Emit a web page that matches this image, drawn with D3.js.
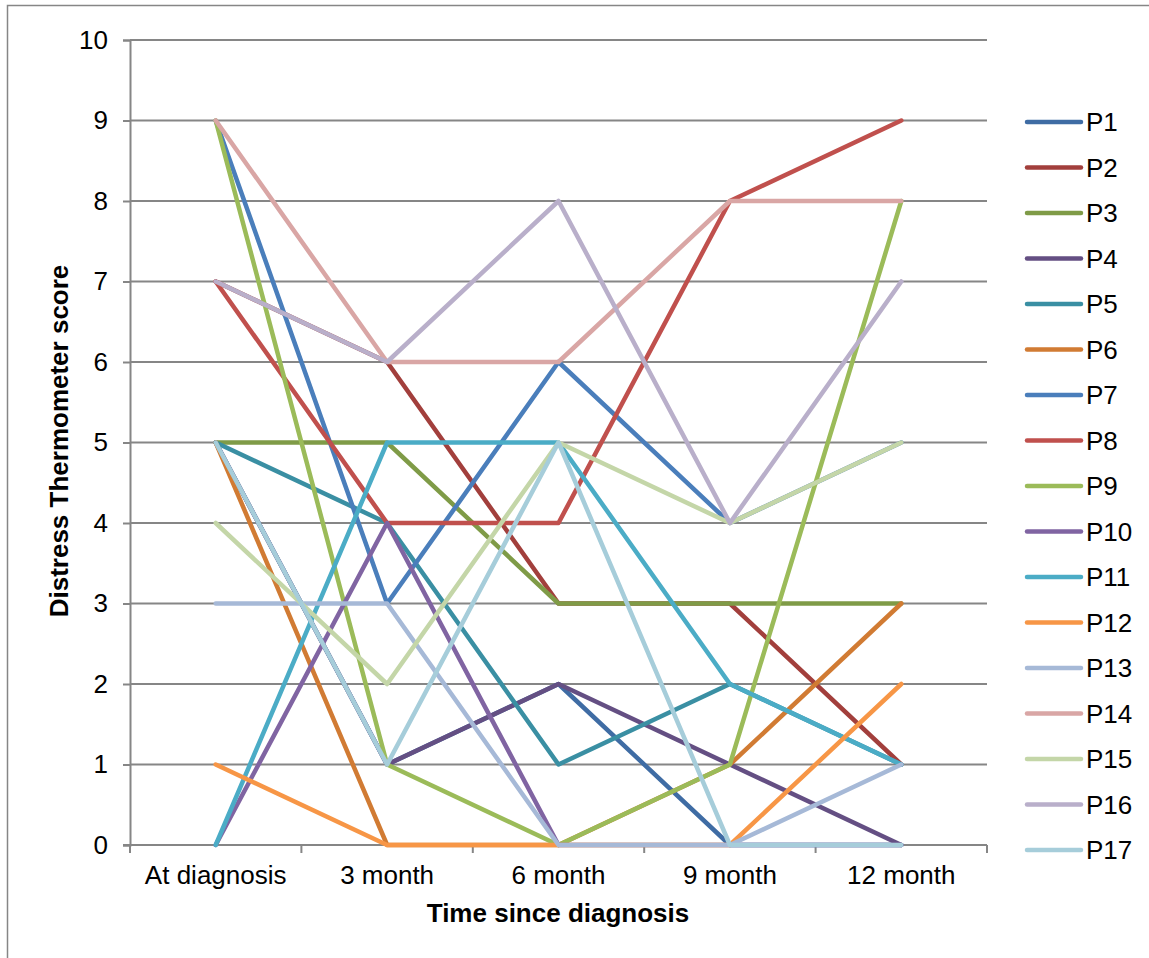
<!DOCTYPE html>
<html>
<head>
<meta charset="utf-8">
<script src="https://cdn.jsdelivr.net/npm/d3@7"></script>
<style>
  body { margin: 0; background: #fff; }
  text { font-family: "Liberation Sans", Arial, sans-serif; }
</style>
</head>
<body>
<div id="chart"></div>
<script>
// Data
var timePoints = ["At diagnosis", "3 month", "6 month", "9 month", "12 month"];
var seriesNames = ["P1","P2","P3","P4","P5","P6","P7","P8","P9","P10","P11","P12","P13","P14","P15","P16","P17"];
var seriesValues = [
  [5, 1, 2, 0, 0],  // P1
  [7, 6, 3, 3, 1],  // P2
  [5, 5, 3, 3, 3],  // P3
  [5, 1, 2, 1, 0],  // P4
  [5, 4, 1, 2, 1],  // P5
  [5, 0, 0, 1, 3],  // P6
  [9, 3, 6, 4, 5],  // P7
  [7, 4, 4, 8, 9],  // P8
  [9, 1, 0, 1, 8],  // P9
  [0, 4, 0, 0, 0],  // P10
  [0, 5, 5, 2, 1],  // P11
  [1, 0, 0, 0, 2],  // P12
  [3, 3, 0, 0, 1],  // P13
  [9, 6, 6, 8, 8],  // P14
  [4, 2, 5, 4, 5],  // P15
  [7, 6, 8, 4, 7],  // P16
  [5, 1, 5, 0, 0]   // P17
];
var seriesColors = ["#3F6CA4","#A23F3C","#7F9B47","#644F83","#3A8FA3","#D17B33",
  "#4A7EBB","#C0504D","#9BBB59","#8064A2","#4BACC6","#F79646",
  "#A6B9D7","#D9A6A5","#C4D6A8","#B9AFCA","#A6CDDA"];
var yTicks = [0, 1, 2, 3, 4, 5, 6, 7, 8, 9, 10];

var W = 1149, H = 958;
var plot = { left: 130, top: 40, right: 987, bottom: 845 };
var fontSize = "26px";

var svg = d3.select("#chart").append("svg")
    .attr("width", W)
    .attr("height", H);

// chart border
svg.append("rect")
    .attr("x", 7.5).attr("y", 5.5)
    .attr("width", 1160).attr("height", 970)
    .attr("fill", "#fff")
    .attr("stroke", "#868686")
    .attr("stroke-width", 1.5);

var x = d3.scaleBand()
    .domain(timePoints)
    .range([plot.left, plot.right]);

var y = d3.scaleLinear()
    .domain([0, 10])
    .range([plot.bottom, plot.top]);

// gridlines + y ticks
var yAxis = svg.append("g")
    .attr("transform", "translate(" + plot.left + ",0)")
    .call(d3.axisLeft(y).tickValues(yTicks).tickSize(7).tickPadding(15));
yAxis.select(".domain").attr("stroke", "#868686").attr("stroke-width", 2);
yAxis.selectAll(".tick line").attr("stroke", "#868686").attr("stroke-width", 2);
yAxis.selectAll(".tick text")
    .attr("font-size", fontSize)
    .attr("fill", "#000")
    .attr("font-family", "Liberation Sans, Arial, sans-serif");

svg.append("g").selectAll("line.grid")
    .data(yTicks.filter(function(d) { return d > 0; }))
    .enter().append("line")
    .attr("class", "grid")
    .attr("x1", plot.left).attr("x2", plot.right)
    .attr("y1", function(d) { return y(d); })
    .attr("y2", function(d) { return y(d); })
    .attr("stroke", "#868686")
    .attr("stroke-width", 2);

// x axis
var xAxis = svg.append("g")
    .attr("transform", "translate(0," + plot.bottom + ")")
    .call(d3.axisBottom(x).tickSize(0).tickPadding(21));
xAxis.select(".domain").remove();
xAxis.selectAll(".tick text")
    .attr("font-size", fontSize)
    .attr("fill", "#000")
    .attr("font-family", "Liberation Sans, Arial, sans-serif");

svg.append("line")
    .attr("x1", plot.left - 7).attr("x2", plot.right)
    .attr("y1", plot.bottom).attr("y2", plot.bottom)
    .attr("stroke", "#868686").attr("stroke-width", 2);

var boundaries = timePoints.map(function(t) { return x(t); }).concat([plot.right]);
svg.append("g").selectAll("line.xtick")
    .data(boundaries)
    .enter().append("line")
    .attr("x1", function(d) { return d; })
    .attr("x2", function(d) { return d; })
    .attr("y1", plot.bottom).attr("y2", plot.bottom + 8)
    .attr("stroke", "#868686").attr("stroke-width", 2);

// axis titles
svg.append("text")
    .attr("x", 558)
    .attr("y", 922)
    .attr("text-anchor", "middle")
    .attr("font-size", "26px")
    .attr("font-weight", "bold")
    .text("Time since diagnosis");

svg.append("text")
    .attr("transform", "translate(68,441) rotate(-90)")
    .attr("text-anchor", "middle")
    .attr("font-size", "26px")
    .attr("font-weight", "bold")
    .text("Distress Thermometer score");

// lines
var line = d3.line()
    .x(function(d, i) { return x(timePoints[i]) + x.bandwidth() / 2; })
    .y(function(d) { return y(d); });

svg.append("g").selectAll("path.series")
    .data(seriesValues)
    .enter().append("path")
    .attr("class", "series")
    .attr("d", line)
    .attr("fill", "none")
    .attr("stroke", function(d, i) { return seriesColors[i]; })
    .attr("stroke-width", 4.5)
    .attr("stroke-linejoin", "round")
    .attr("stroke-linecap", "round");

// legend
var legend = svg.append("g").selectAll("g.legend")
    .data(seriesNames)
    .enter().append("g")
    .attr("class", "legend")
    .attr("transform", function(d, i) { return "translate(1027," + (122 + i * 45.5) + ")"; });

legend.append("line")
    .attr("x1", 0).attr("x2", 54)
    .attr("stroke", function(d, i) { return seriesColors[i]; })
    .attr("stroke-width", 4.5)
    .attr("stroke-linecap", "round");

legend.append("text")
    .attr("x", 59)
    .attr("dy", "0.36em")
    .attr("font-size", fontSize)
    .text(function(d) { return d; });
</script>
</body>
</html>
